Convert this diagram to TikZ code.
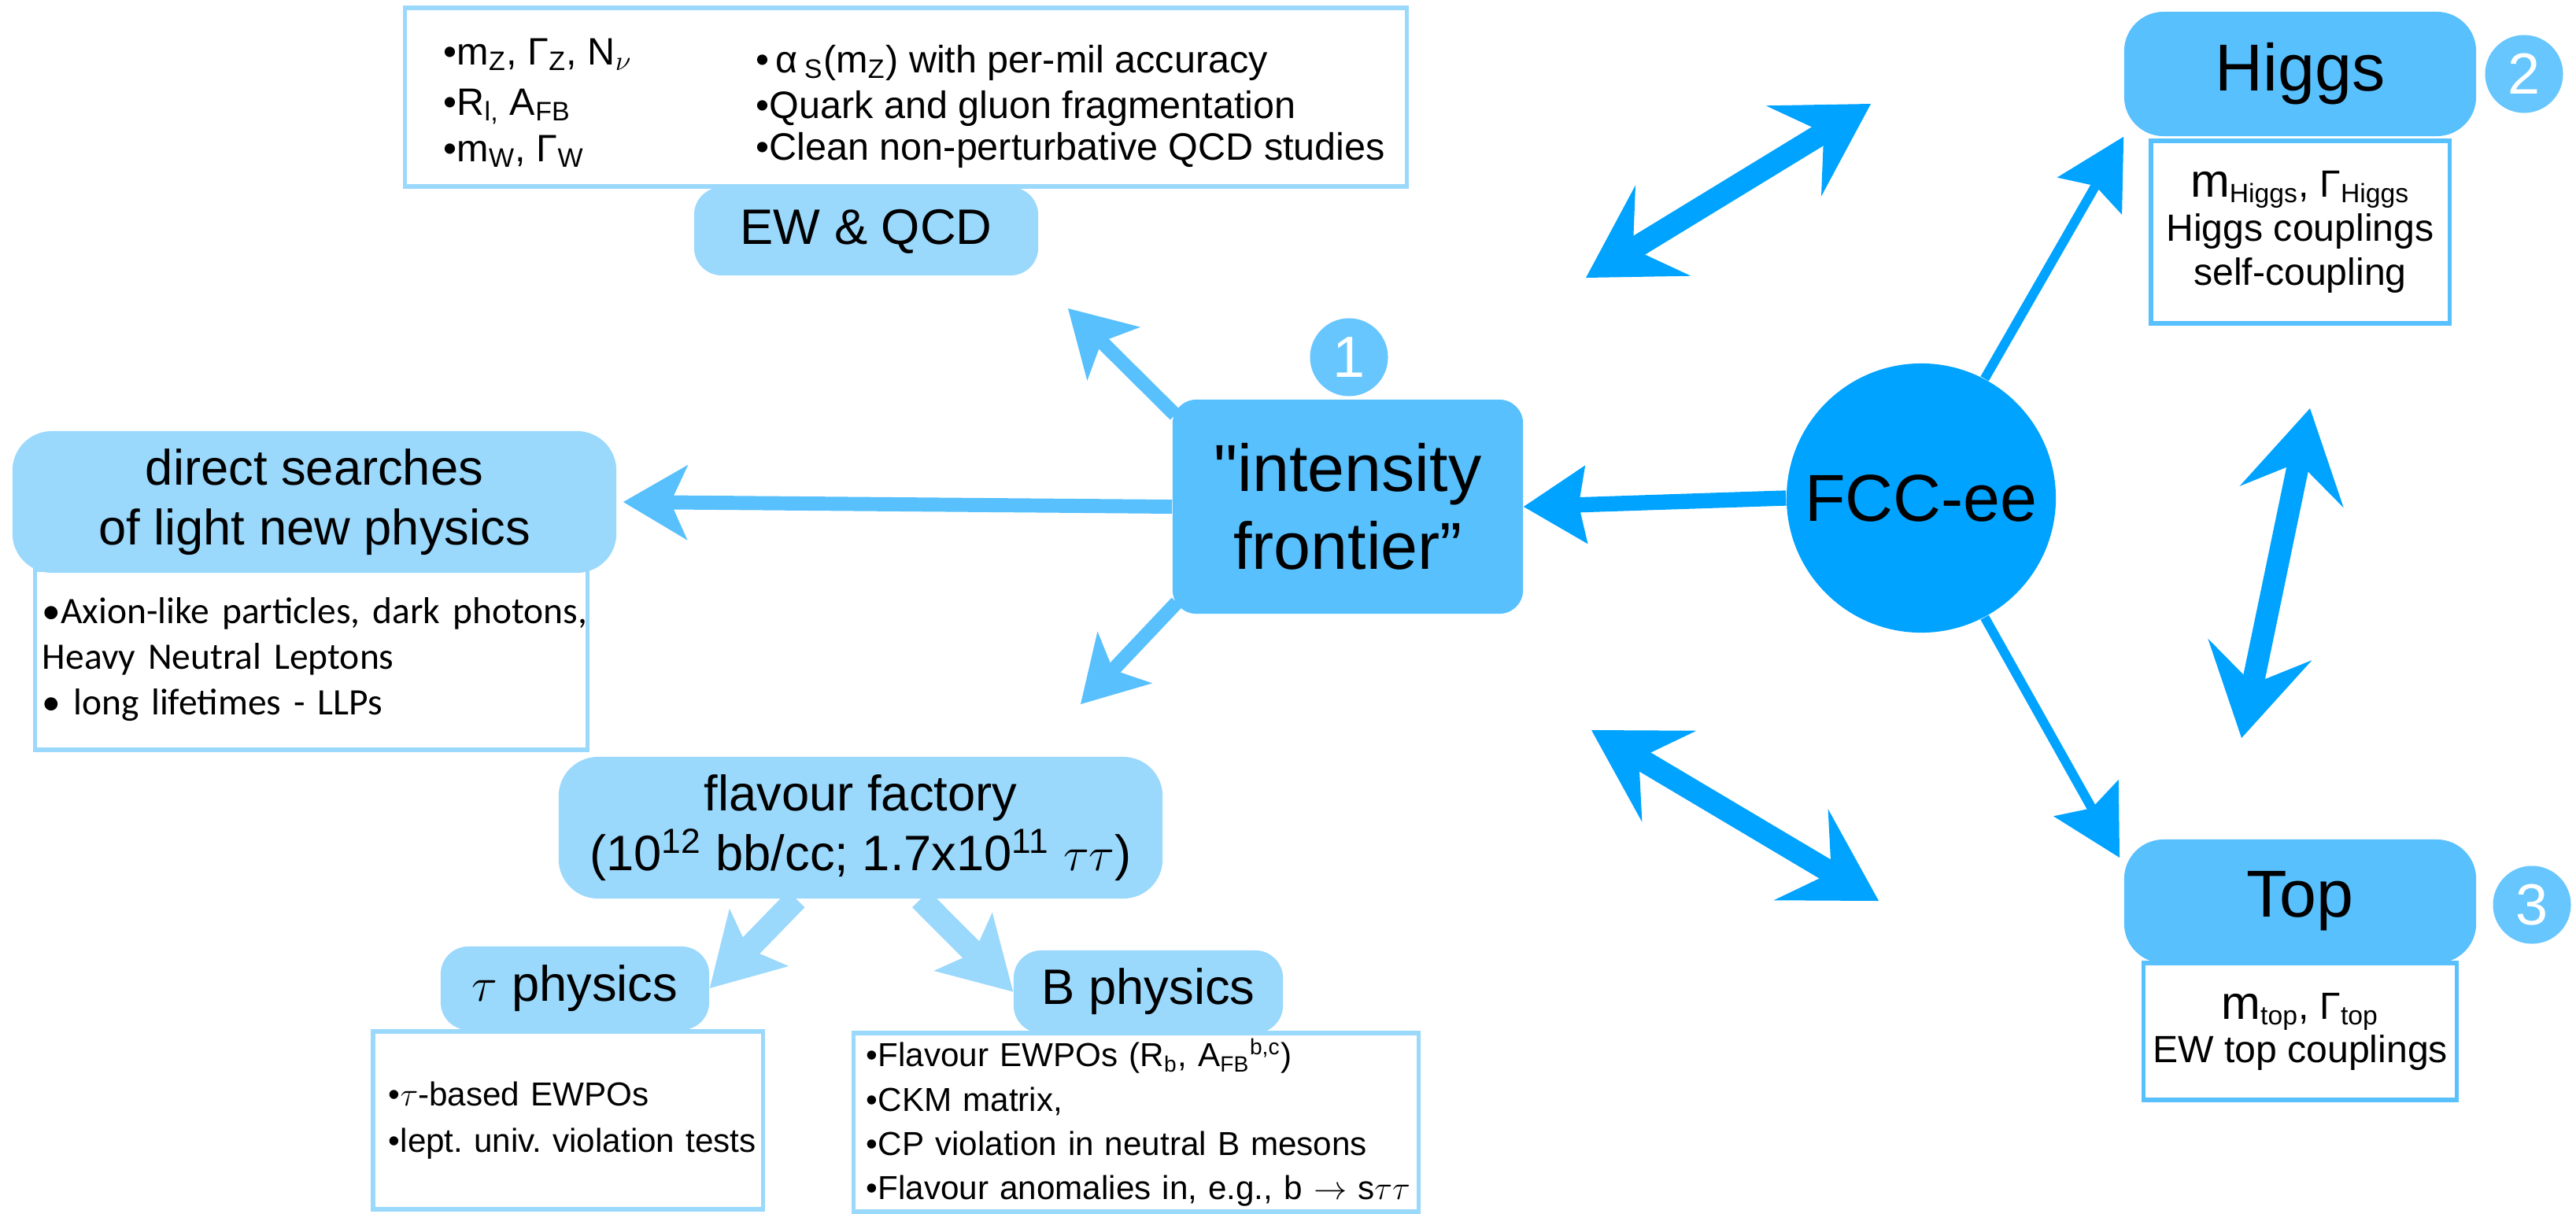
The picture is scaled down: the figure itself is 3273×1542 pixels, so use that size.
\documentclass[tikz,border=0pt]{standalone}
\usepackage{fontspec}
\setmainfont{Liberation Sans}
\newfontfamily\calib{Carlito}
\newfontfamily\quotefont{Liberation Sans}[Ligatures=TeXOff]
\usetikzlibrary{arrows.meta}
\definecolor{lightb}{RGB}{154,216,252}
\definecolor{medb}{RGB}{88,192,253}
\definecolor{circb}{RGB}{102,198,253}
\definecolor{darkb}{RGB}{0,163,255}
\tikzset{
  lightbox/.style={fill=lightb, inner sep=0pt, align=center},
  medbox/.style={fill=medb, inner sep=0pt, align=center},
  subbox/.style={draw=#1, line width=1.5pt, fill=white, inner ysep=0pt},
  numcirc/.style={circle, fill=circb, text=white, minimum size=0.99cm, inner sep=0pt, font=\fontsize{21}{21}\selectfont},
  bigtxt/.style={font=\fontsize{24}{28}\selectfont},
  midtxt/.style={font=\fontsize{18}{21.5}\selectfont},
  ewtxt/.style={anchor=base west, inner sep=0pt, font=\fontsize{13.8}{16}\selectfont},
  headM/.tip={Stealth[length=0.82cm,width=0.96cm,inset=0.22cm,line width=0pt 0 0]},
  arrM/.style={draw=medb, line width=5.1pt, -headM},
  arrL/.style={draw=lightb, line width=8.5pt, -{Stealth[length=0.9cm,width=1.05cm,inset=0.2cm,line width=0pt 0 0]}},
  arrDk/.style={draw=darkb, line width=5.5pt, -{Stealth[length=0.8cm,width=1cm,inset=0.1cm,line width=0pt 0 0]}},
  arrDt/.style={draw=darkb, line width=3.4pt, -{Stealth[length=0.87cm,width=0.95cm,inset=0.15cm,line width=0pt 0 0]}},
  headD/.tip={Stealth[length=1.15cm,width=1.35cm,inset=0.45cm,line width=0pt 0 0]},
  dbl/.style={draw=darkb, line width=8pt, headD-headD},
}
\begin{document}
\frenchspacing
\begin{tikzpicture}[x=0.01cm,y=-0.01cm]
\useasboundingbox (0,0) rectangle (3273,1542);

% ---------- sub boxes (behind the title boxes) ----------
\node[subbox=lightb, minimum width=12.72cm, minimum height=2.27cm] (topbox) at (1151,123.5) {};
\node[subbox=medb, minimum width=3.79cm, minimum height=2.32cm, align=center,
      font=\fontsize{13.7}{16}\selectfont] (higgssub) at (2922.5,295)
  {{\fontsize{17}{16}\selectfont m}\textsubscript{Higgs}, Γ\textsubscript{Higgs}\\Higgs couplings\\self-coupling};
\node[subbox=medb, minimum width=3.79cm, minimum height=1.74cm, align=center,
      font=\fontsize{13.7}{15.6}\selectfont] (topsub) at (2922.5,1311)
  {{\fontsize{17}{16}\selectfont m}\textsubscript{top}, Γ\textsubscript{top}\\EW top couplings};
\node[subbox=lightb, minimum height=2.29cm, text width=6.83cm, inner xsep=0.09cm, align=left,
      font=\calib\fontsize{13.5}{16.5}\selectfont] (directsub) at (395.5,838.5)
  {\mbox{•Axion-like particles, dark photons,}\\\mbox{Heavy Neutral Leptons}\\\mbox{• long lifetimes - LLPs}};
\node[subbox=lightb, minimum height=2.26cm, text width=4.55cm, inner xsep=0.2cm, align=left,
      font=\fontsize{12}{16.8}\selectfont] (tausub) at (721.5,1424)
  {\mbox{•$\tau$-based EWPOs}\\\mbox{•lept. univ. violation tests}};
\node[subbox=lightb, minimum height=2.27cm, text width=6.85cm, inner xsep=0.16cm, align=left,
      font=\fontsize{12}{15.8}\selectfont] (bsub) at (1443.5,1426.5)
  {\mbox{•Flavour EWPOs (R\textsubscript{b}, A\textsubscript{FB}\textsuperscript{b,c})}\\[0.4pt]
   \mbox{•CKM matrix,}\\\mbox{•CP violation in neutral B mesons}\\
   \mbox{•Flavour anomalies in, e.g., b $\rightarrow$ s$\tau\tau$}};

% ---------- texts of the EW box ----------
\node[ewtxt] (ew1) at (563,82) {•m\textsubscript{Z}, Γ\textsubscript{Z}, N$_\nu$};
\node[ewtxt] (ew2) at (563,146) {•R\textsubscript{l,} A\textsubscript{FB}};
\node[ewtxt] (ew3) at (563,205) {•m\textsubscript{W}, Γ\textsubscript{W}};
\node[ewtxt] (ew4) at (960,92) {•\,α\,\textsubscript{S}(m\textsubscript{Z}) with per-mil accuracy};
\node[ewtxt] (ew5) at (960,150) {•Quark and gluon fragmentation};
\node[ewtxt] (ew6) at (960,203) {•Clean non-perturbative QCD studies};

% ---------- title boxes ----------
\node[lightbox, rounded corners=0.35cm, minimum width=4.37cm, minimum height=1.12cm, midtxt] (ewqcd) at (1100.5,294) {EW \& QCD};
\node[medbox, rounded corners=0.3cm, minimum width=4.45cm, minimum height=2.72cm, bigtxt] (intens) at (1712.5,644) {{\quotefont"}intensity\\frontier”};
\node[circle, fill=darkb, minimum size=3.42cm, inner sep=0pt, bigtxt] (fcc) at (2441,633) {FCC-ee};
\node[medbox, rounded corners=0.5cm, minimum width=4.47cm, minimum height=1.58cm, bigtxt] (higgs) at (2922.5,94) {Higgs};
\node[medbox, rounded corners=0.5cm, minimum width=4.47cm, minimum height=1.57cm, bigtxt] (top) at (2922.5,1145.5) {Top};
\node[lightbox, rounded corners=0.5cm, minimum width=7.67cm, minimum height=1.8cm, midtxt] (direct) at (399.5,638) {direct searches\\of light new physics};
\node[lightbox, rounded corners=0.5cm, minimum width=7.67cm, minimum height=1.8cm, midtxt] (flavour) at (1093.5,1052)
  {flavour factory\\(10\textsuperscript{12} bb/cc; 1.7x10\textsuperscript{11} $\tau\tau$)};
\node[lightbox, rounded corners=0.35cm, minimum width=3.41cm, minimum height=1.06cm, midtxt] (tau) at (730.5,1256) {$\tau$ physics};
\node[lightbox, rounded corners=0.35cm, minimum width=3.42cm, minimum height=1.05cm, midtxt] (bphys) at (1459,1260.5) {B physics};

% ---------- numbered circles ----------
\node[numcirc] (n1) at (1714,454) {1};
\node[numcirc] (n2) at (3207,94) {2};
\node[numcirc] (n3) at (3217,1150) {3};

% ---------- connectors ----------
\coordinate (ewtip) at (1357,392);
\coordinate (flvtip) at (1373,895);
\coordinate (toptip) at (2693,1090);
\coordinate (d1a) at (2015,353);
\coordinate (d1b) at (2377,132);
\coordinate (d2a) at (2022,928);
\coordinate (d2b) at (2387,1145);
\coordinate (d3a) at (2935,519);
\coordinate (d3b) at (2848,938);

\draw[arrM] ([shift={(0.04cm,-0.2cm)}]intens.north west) -- (ewtip);
\draw[arrM] (intens.west) -- ([xshift=0.08cm]direct.east);
\draw[arrM] ([shift={(0.06cm,0.15cm)}]intens.south west) -- (flvtip);
\draw[arrDk] (fcc.west) -- (intens.east);
\draw[arrDt] (fcc.62) -- (higgs.south west);
\draw[arrDt] (fcc.-62) -- (toptip);
\draw[arrL] (flavour.-132) -- (tau.east);
\draw[arrL] (flavour.-50) -- (bphys.west);
\draw[dbl] (d1a) -- (d1b);
\draw[dbl] (d2a) -- (d2b);
\draw[dbl] (d3a) -- (d3b);
\end{tikzpicture}
\end{document}
